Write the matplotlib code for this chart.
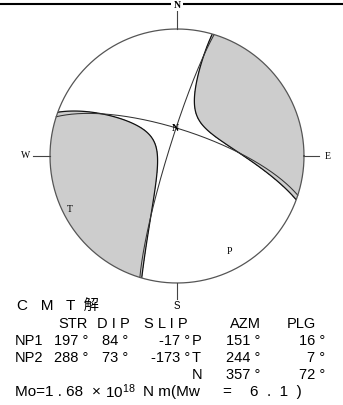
import numpy as np
import matplotlib
matplotlib.use('Agg')
import matplotlib.pyplot as plt
from matplotlib.lines import Line2D
from matplotlib.patches import Circle
from matplotlib import font_manager

# ---------------- data ----------------
np1 = (197, 84, -17)      # strike, dip, slip
np2 = (288, 73, -173)
p_axis = (151, 16)        # azimuth, plunge
t_axis = (244, 7)
n_axis = (357, 72)
mo_mant = "1.68"
mo_exp = 18
mw = 6.1
non_dc = 0.08             # estimated share of the null-axis eigenvalue (negative)

title = "C   M   T  解"
header = ["STR", "D I P", "S L I P", "AZM", "PLG"]
row_names = ["NP1", "NP2"]
axis_names = ["P", "T", "N"]

# ---------------- fonts ----------------
names = {f.name for f in font_manager.fontManager.ttflist}
latin = 'Liberation Sans Narrow' if 'Liberation Sans Narrow' in names else 'Liberation Sans'
plt.rcParams['font.family'] = [latin, 'Noto Sans CJK JP', 'DejaVu Sans']
plt.rcParams['mathtext.default'] = 'regular'
serif = ['Liberation Serif', 'DejaVu Serif']

W, H = 343, 406
fig = plt.figure(figsize=(W / 100, H / 100), dpi=100)

cx, cy, R = 177, 157, 127
lim = 1.32
ax = fig.add_axes([(cx - lim * R) / W, 1 - (cy + lim * R) / H,
                   2 * lim * R / W, 2 * lim * R / H])
ax.set_xlim(-lim, lim)
ax.set_ylim(-lim, lim)
ax.axis('off')


def vec(az, pl):
    a, p = np.radians(az), np.radians(pl)
    return np.array([np.cos(p) * np.cos(a), np.cos(p) * np.sin(a), np.sin(p)])


def project(v):
    v = np.asarray(v, dtype=float)
    sgn = np.where(v[2] < 0, -1.0, 1.0)
    v = v * sgn
    theta = np.arccos(np.clip(v[2], -1, 1))
    az = np.arctan2(v[1], v[0])
    r = np.sqrt(2) * np.sin(theta / 2)
    return r * np.sin(az), r * np.cos(az)


t = vec(*t_axis)
p = vec(*p_axis)
p = p - t * np.dot(p, t)
p /= np.linalg.norm(p)
n = np.cross(t, p)
lamT, lamN, lamP = 1.0, -non_dc, -(1.0 - non_dc)
M = lamT * np.outer(t, t) + lamN * np.outer(n, n) + lamP * np.outer(p, p)

g = np.linspace(-1.05, 1.05, 901)
X, Y = np.meshgrid(g, g)
r = np.clip(np.hypot(X, Y), 0, np.sqrt(2) - 1e-9)
theta = 2 * np.arcsin(r / np.sqrt(2))
az = np.arctan2(X, Y)
V = np.stack([np.sin(theta) * np.cos(az), np.sin(theta) * np.sin(az), np.cos(theta)])
U = np.einsum('i...,ij,j...->...', V, M, V)

clip = Circle((0, 0), 1.0, transform=ax.transData, fc='none', ec='none')
ax.add_patch(clip)
cf = ax.contourf(X, Y, U, levels=[0, U.max() + 1], colors=['#cdcdcd'])
cf.set_clip_path(clip)
cl = ax.contour(X, Y, U, levels=[0], colors='#111111', linewidths=0.9)
cl.set_clip_path(clip)


def plane(strike, dip):
    s, d = np.radians(strike), np.radians(dip)
    a = np.linspace(0, np.pi, 400)
    sv = np.array([np.cos(s), np.sin(s), 0.0])
    dv = np.array([np.cos(d) * np.cos(s + np.pi / 2), np.cos(d) * np.sin(s + np.pi / 2), np.sin(d)])
    v = np.outer(sv, np.cos(a)) + np.outer(dv, np.sin(a))
    return project(v)


for pl in (np1, np2):
    x, y = plane(pl[0], pl[1])
    ax.plot(x, y, color='#333333', lw=0.75)

ang = np.linspace(0, 2 * np.pi, 720)
ax.plot(np.cos(ang), np.sin(ang), color='#555555', lw=0.9)

# compass
ax.plot([0, 0], [1, 1.142], color='#444444', lw=0.8)
ax.plot([0, 0], [-1, -1.126], color='#444444', lw=0.8)
ax.plot([-1, -1.134], [0, 0], color='#444444', lw=0.8)
ax.plot([1, 1.118], [0, 0], color='#444444', lw=0.8)
ax.text(0, 1.195, "N", ha='center', va='center', fontsize=7, family=serif, fontweight='bold',
        bbox=dict(fc='white', ec='none', pad=1.5), zorder=5)
ax.text(0, -1.17, "S", ha='center', va='center', fontsize=7)
ax.text(-1.19, 0.01, "W", ha='center', va='center', fontsize=7, family=serif)
ax.text(1.19, 0.0, "E", ha='center', va='center', fontsize=7, family=serif)

for name, axv in zip(["P", "T", "N"], [p_axis, t_axis, n_axis]):
    x, y = project(vec(*axv))
    ax.text(x, y, name, ha='center', va='center', fontsize=7, family=serif,
            fontweight='bold' if name == 'N' else 'normal')

# top rule
fig.add_artist(Line2D([0, 1], [1 - 4.8 / H] * 2, transform=fig.transFigure, color='black', lw=1.5, zorder=0))

# ---------------- text block ----------------
tx = fig.add_axes([0, 0, 1, 1])
tx.set_xlim(0, W)
tx.set_ylim(H, 0)
tx.axis('off')
tx.patch.set_alpha(0)

fs = 10.5
tx.text(17, 306, title, fontsize=11, ha='left', va='center')
hx = [58, 97, 144, 230, 287]
rows_y = [324.5, 341.5, 358, 375, 392]
for h, x in zip(header, hx):
    tx.text(x, rows_y[0], h, fontsize=fs, ha='left', va='center')

planes = [np1, np2]
axes_v = [p_axis, t_axis, n_axis]
col_r = [88, 128, 190]
for i in range(3):
    y = rows_y[1 + i]
    if i < 2:
        tx.text(15, y, row_names[i], fontsize=fs, ha='left', va='center')
        for v, xr in zip(planes[i], col_r):
            tx.text(xr, y, f"{v} °", fontsize=fs, ha='right', va='center')
    tx.text(192, y, axis_names[i], fontsize=fs, ha='left', va='center')
    tx.text(260, y, f"{axes_v[i][0]} °", fontsize=fs, ha='right', va='center')
    tx.text(325, y, f"{axes_v[i][1]} °", fontsize=fs, ha='right', va='center')

# moment line, spread out like the reference
ym = rows_y[4]
mant_txt = mo_mant.replace(".", " . ")
mw_txt = f"{mw}".replace(".", "  .  ")
mo_parts = [(15, f"Mo={mant_txt}"), (92, "×"), (105, f"10$^{{{mo_exp}}}$"),
            (143, "N m(Mw"), (222, "="), (250, mw_txt + "  )")]
for x, s in mo_parts:
    tx.text(x, ym, s, fontsize=fs + 0.5, ha='left', va='center')

fig.savefig('out.png', dpi=100)
